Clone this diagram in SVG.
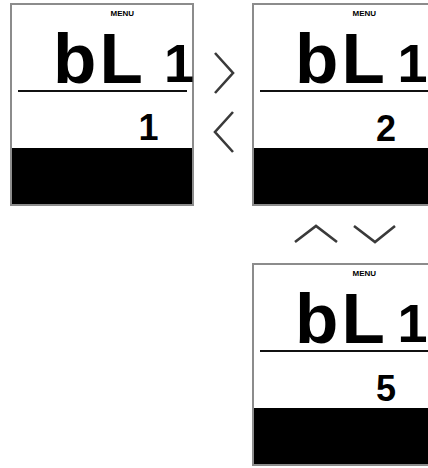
<svg xmlns="http://www.w3.org/2000/svg" xmlns:xlink="http://www.w3.org/1999/xlink" width="428" height="468" viewBox="0 0 428 468">
  <style>
    .frame { fill: none; stroke: #8c8c8c; stroke-width: 2; }
    .bar { fill: #000; }
    .rule { stroke: #111; stroke-width: 2; }
    .lcd { font-family: "Liberation Sans", Arial, sans-serif; font-weight: bold; fill: #000; }
    .menu { font-size: 8px; }
    .big { font-size: 71px; }
    .bigone { font-size: 54px; }
    .val { font-size: 36px; }
    .arrow { fill: none; stroke: #3a3a3a; stroke-width: 2.6; stroke-linejoin: miter; stroke-linecap: butt; }
  </style>
  <defs>
    <g id="screen">
      <rect x="11" y="4" width="182" height="201" fill="#fff"/>
      <rect class="bar" x="11" y="148" width="182" height="57"/>
      <line class="rule" x1="18" y1="91" x2="187" y2="91"/>
      <rect class="frame" x="11" y="4" width="182" height="201"/>
    </g>
  </defs>
  <rect width="428" height="468" fill="#fff"/>

  <g id="panel-1">
    <use xlink:href="#screen" href="#screen"/>
    <text class="lcd menu" x="110.5" y="16">MENU</text>
    <text class="lcd big" x="53 99.5" y="83">bL</text>
    <text class="lcd bigone" x="164" y="82">1</text>
    <text class="lcd val" x="138.5" y="140">1</text>
  </g>

  <g id="panel-2" transform="translate(242,0)">
    <use xlink:href="#screen" href="#screen"/>
    <text class="lcd menu" x="110.5" y="16">MENU</text>
    <text class="lcd big" x="53 99.5" y="83">bL</text>
    <text class="lcd bigone" x="155.5" y="82">1</text>
    <text class="lcd val" x="134" y="141">2</text>
  </g>

  <g id="panel-3" transform="translate(242,260)">
    <use xlink:href="#screen" href="#screen"/>
    <text class="lcd menu" x="110.5" y="16">MENU</text>
    <text class="lcd big" x="53 99.5" y="83">bL</text>
    <text class="lcd bigone" x="155.5" y="82">1</text>
    <text class="lcd val" x="134" y="141">5</text>
  </g>

  <g id="connectors">
    <polyline class="arrow" points="215,53 233,73 215,93"/>
    <polyline class="arrow" points="233,112 215,132 233,152"/>
    <polyline class="arrow" points="295,242 316,226 337,242"/>
    <polyline class="arrow" points="354,226 375,242 395,226"/>
  </g>
</svg>
